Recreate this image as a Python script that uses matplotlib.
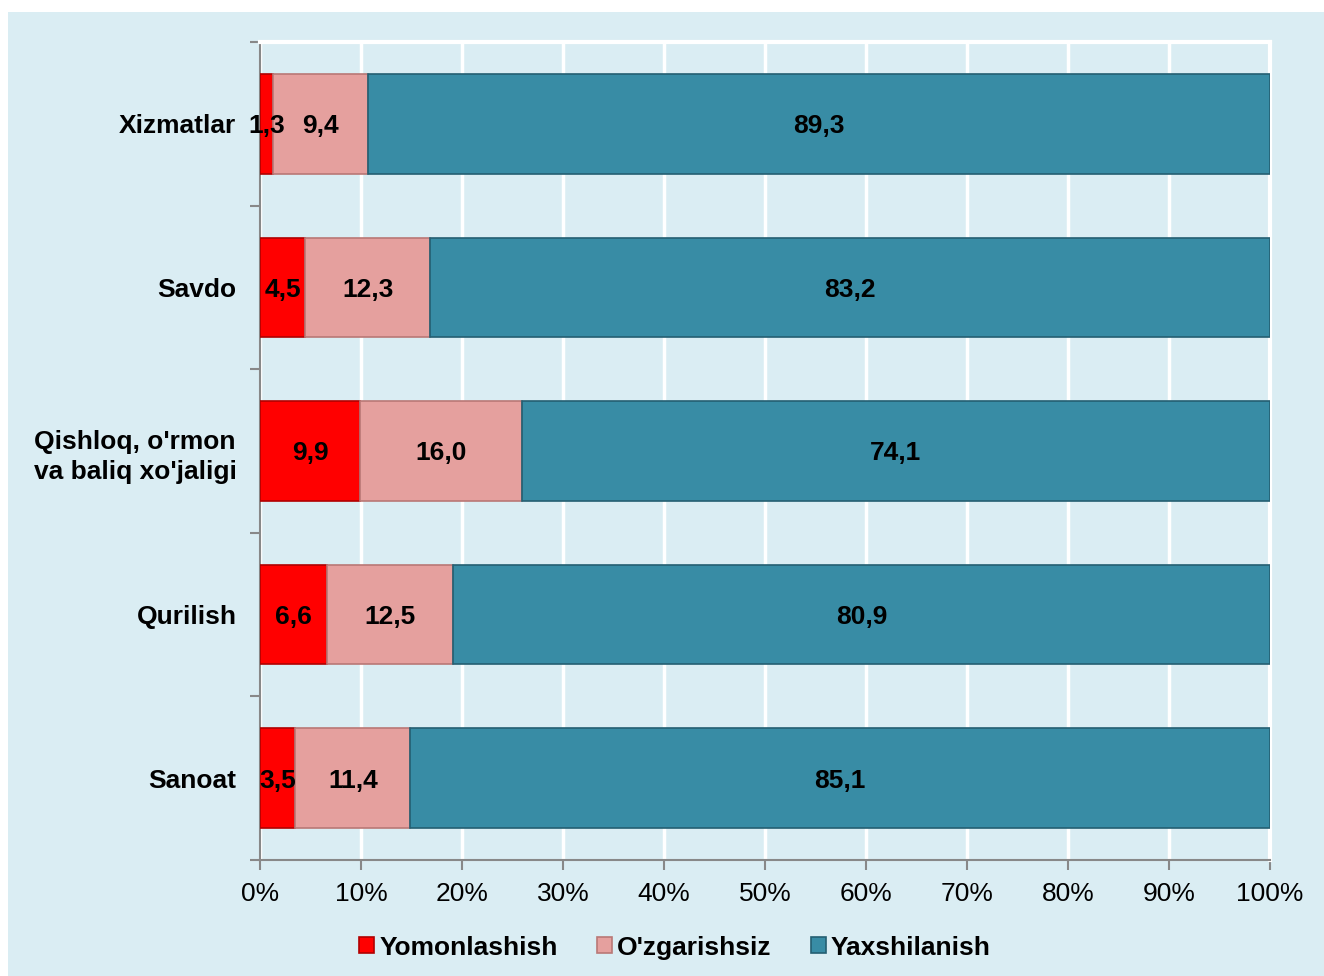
import matplotlib.pyplot as plt
import matplotlib.patches as mpatches
import numpy as np

# ma'lumotlar (pastdan yuqoriga)
categories = ["Sanoat", "Qurilish", "Qishloq, o'rmon\nva baliq xo'jaligi", "Savdo", "Xizmatlar"]
yomon = [3.5, 6.6, 9.9, 4.5, 1.3]
ozgar = [11.4, 12.5, 16.0, 12.3, 9.4]
yaxshi = [85.1, 80.9, 74.1, 83.2, 89.3]
series_names = ["Yomonlashish", "O'zgarishsiz", "Yaxshilanish"]
colors = ["#FF0000", "#E5A09E", "#388CA5"]
edges = ["#B00000", "#B97876", "#245F72"]

plt.rcParams['font.family'] = ['Liberation Sans', 'DejaVu Sans']

fig = plt.figure(figsize=(13.24, 9.76), dpi=100)
fig.patch.set_facecolor("white")
fig.patches.append(mpatches.Rectangle((8/1324, 0), 1 - 8/1324, 1 - 12/976,
                                      transform=fig.transFigure, facecolor="#DAEDF3",
                                      edgecolor="none", zorder=-10))

ax = fig.add_axes([260/1324, 1 - 860/976, 1010/1324, 818/976])
ax.set_facecolor("#DAEDF3")

y = np.arange(len(categories))
h = 0.61
left = np.zeros(len(categories))
for vals, name, c, ec in zip([yomon, ozgar, yaxshi], series_names, colors, edges):
    vals = np.array(vals)
    ax.barh(y, vals, height=h, left=left, color=c, edgecolor=ec, linewidth=1.2,
            label=name, zorder=3)
    for yi, l, v in zip(y, left, vals):
        ax.text(l + v / 2, yi - 0.015, f"{v:.1f}".replace(".", ","), ha="center", va="center",
                fontsize=19, fontweight="bold", color="black", zorder=5)
    left = left + vals

ax.set_xlim(0, 100)
ax.set_ylim(-0.5, 4.5)
ax.set_xticks(np.arange(0, 101, 10))
ax.set_xticklabels([f"{v}%" for v in range(0, 101, 10)], fontsize=19)
ax.set_yticks(y)
ax.set_yticklabels(categories, fontsize=19, fontweight="bold", multialignment="center",
                   linespacing=1.35)
ax.set_yticks(np.arange(-0.5, 5, 1), minor=True)
ax.tick_params(axis="y", which="major", length=0, pad=17)
ax.tick_params(axis="y", which="minor", length=7, color="#888888", width=1.5)
ax.tick_params(axis="x", length=7, color="#888888", width=1.5, pad=9)
ax.grid(axis="x", color="white", linewidth=2.5, zorder=0)
ax.set_axisbelow(True)
for s in ["left", "bottom"]:
    ax.spines[s].set_color("#888888")
    ax.spines[s].set_linewidth(1.5)
for s in ["top", "right"]:
    ax.spines[s].set_color("white")
    ax.spines[s].set_linewidth(3)

ax.legend(loc="center", bbox_to_anchor=(0.411, -0.107), ncol=3, frameon=False,
          prop={"size": 19, "weight": "bold"}, handlelength=0.55, handleheight=0.55,
          handletextpad=0.2, columnspacing=1.5)

plt.savefig("out.png", dpi=100)
